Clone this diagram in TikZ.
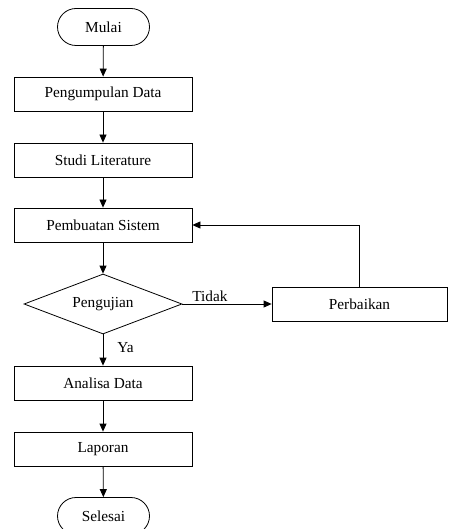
\documentclass[tikz,border=0pt]{standalone}
\usepackage{fontspec}
\setmainfont{Liberation Serif}
\usetikzlibrary{shapes.geometric,arrows.meta}
\begin{document}
\begin{tikzpicture}[x=1pt,y=1pt,
  every node/.style={font=\rmfamily\fontsize{15.3}{18}\selectfont},
  terminal/.style={draw,line width=0.8pt,rounded corners=18.5pt,minimum width=92pt,minimum height=37pt,inner sep=0pt},
  procbox/.style={draw,line width=0.8pt,minimum width=178pt,minimum height=34pt,inner sep=0pt},
  decision/.style={draw,line width=0.8pt,shape=diamond,aspect=2.63,minimum width=158pt,minimum height=60pt,inner sep=0pt},
  lbl/.style={inner sep=0pt},
  conn/.style={line width=0.8pt,-{Triangle[length=8pt,width=7pt]}}]
\useasboundingbox (0,0) rectangle (448,-529);
\node[terminal] (mulai) at (103.5,-27) {Mulai};
\node[procbox] (pd) at (103,-94) {Pengumpulan Data};
\node[procbox] (sl) at (103,-160) {Studi Literature};
\node[procbox] (ps) at (103,-225) {Pembuatan Sistem};
\node[decision] (uji) at (103,-304) {Pengujian};
\node[draw,line width=0.8pt,minimum width=175pt,minimum height=34pt,inner sep=0pt] (perb) at (359.5,-304) {Perbaikan};
\node[procbox] (ad) at (103,-383) {Analisa Data};
\node[procbox] (lp) at (103,-449) {Laporan};
\node[terminal] (sel) at (103.5,-516) {Selesai};
\node[lbl] (tidak) at (210,-296) {Tidak};
\node[lbl] (ya) at (125.5,-348) {Ya};
\draw[conn] (mulai) -- (pd);
\draw[conn] (pd) -- (sl);
\draw[conn] (sl) -- (ps);
\draw[conn] (ps) -- (uji);
\draw[conn] (uji) -- (perb);
\draw[conn] (perb.north) |- (ps.east);
\draw[conn] (uji) -- (ad);
\draw[conn] (ad) -- (lp);
\draw[conn] (lp) -- (sel);
\end{tikzpicture}
\end{document}
